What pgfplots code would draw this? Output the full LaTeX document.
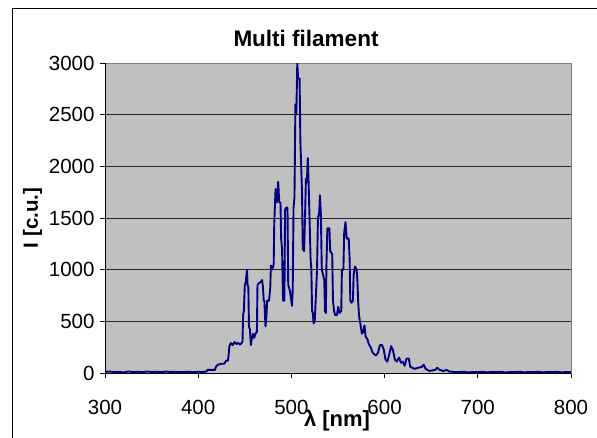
\documentclass[border=0pt]{standalone}
\usepackage{pgfplots}
\pgfplotsset{compat=1.18}
\usepackage{pgfplotstable}
\usepackage{fontspec}
\setmainfont{Liberation Sans}
\definecolor{plotgray}{RGB}{192,192,192}
\definecolor{navyline}{RGB}{0,0,128}
\pgfplotstableread{
x y
300 10
305 15
310 8
315 12
320 5
325 15
330 10
335 12
340 8
345 15
350 10
355 12
360 8
365 14
370 10
375 12
380 8
385 10
390 12
395 8
400 12
405 10
409 15
410 30
415 30
418 30
419 60
421 80
425 90
428 90
430 120
432 120
433.5 260
435 290
437 270
439 300
441 280
443 290
445 275
447.5 300
448.2 560
449 600
450 850
451 880
452.4 1000
453 850
453.8 830
454.5 450
455.5 420
456.5 270
457.5 330
458.9 380
460 340
461.5 380
463 400
463.6 850
465 870
467 880
468.5 900
469.5 830
470.3 700
471 700
472.2 450
473.2 550
474 700
476 700
477.3 820
478 1040
479.5 1000
481 1050
481.6 1450
483 1780
484.4 1650
485.8 1850
487 1650
488.3 1650
489 1300
490 1200
491 700
492.5 700
493.2 1580
494.5 1600
495.8 1600
496.6 850
498.3 800
499.9 700
500.6 650
501.4 800
502.3 1600
503.3 1700
504.3 2600
505.3 2500
506.3 3000
507.2 2850
508.8 2850
509.6 2250
511.4 1750
512.2 1200
513.6 1180
514.6 1500
515.6 1880
516.6 1850
517.6 2080
518.6 1800
520.6 1100
521.4 1000
522.2 600
523 580
523.8 480
525 500
525.8 650
527.5 1000
528.5 1500
529.8 1550
530.6 1720
531.6 1550
532.6 1000
534 950
535.3 900
536 600
537 580
537.6 1050
538.6 1400
540.8 1400
541.6 1180
543.8 1150
544.6 700
545.8 600
547 560
548.8 560
550.2 640
551.6 580
553.5 600
554.2 1000
555.8 1000
556.6 1350
558 1460
559.4 1300
561.5 1300
562.5 1100
563.2 700
564.5 680
566 700
566.8 950
568.2 1030
570 1000
570.8 900
571.6 700
572.6 550
574.5 450
575.6 380
577 400
578.4 460
579.6 350
581.5 330
583 280
585 250
587 200
589 180
591 170
593 200
595 270
597.2 270
599 230
601 130
603 110
605 180
607 260
609 220
611 130
613 110
615.5 150
617.5 100
619.5 110
621.5 70
623.5 140
626 140
627.5 60
632 40
636 50
640 60
642 80
644 40
648 20
654 30
656.5 50
659 30
663 20
667 30
669 15
675 10
680 8
685 12
690 5
695 10
700 8
705 12
710 6
715 10
720 8
725 12
730 5
735 10
740 8
745 12
750 6
755 10
760 8
765 12
770 6
775 10
780 8
785 12
790 6
795 10
800 8
}\spectrum
\begin{document}
\begin{tikzpicture}[x=1pt,y=1pt]
\useasboundingbox (0,0) rectangle (597,437);
\draw[black, line width=0.8pt] (12.5,-5) -- (12.5,428.5) -- (605,428.5);
\begin{axis}[
  at={(105pt,64pt)}, anchor=south west,
  scale only axis, width=466pt, height=310pt,
  xmin=300, xmax=800, ymin=0, ymax=3000,
  xtick={300,400,...,800}, ytick={0,500,...,3000},
  axis background/.style={fill=plotgray},
  axis line style={draw=gray, line width=1pt},
  ymajorgrids, grid style={black!85, line width=0.7pt},
  tick align=outside, major tick length=5pt,
  tick style={black, line width=0.7pt},
  xtick pos=left, ytick pos=left,
  ticklabel style={font=\fontsize{20.5}{22}\selectfont},
  /pgf/number format/assume math mode=true,
  /pgf/number format/1000 sep={},
  yticklabel style={xshift=-2pt},
  xticklabel style={yshift=-19pt},
  clip=true,
]
\addplot[navyline, line width=1.9pt, line join=round] table[x=x,y=y] {\spectrum};
\draw[black, line width=0.8pt] (rel axis cs:0,1) -- (rel axis cs:0,0) -- (rel axis cs:1,0);
\end{axis}
\node[font=\fontsize{22.5}{26}\selectfont\bfseries] at (306,399) {Multi filament};
\node[font=\fontsize{22}{26}\selectfont\bfseries] at (337,16) {λ [nm]};
\node[font=\fontsize{20.5}{24}\selectfont\bfseries, rotate=90] at (32.5,219) {I [c.u.]};
\end{tikzpicture}
\end{document}
